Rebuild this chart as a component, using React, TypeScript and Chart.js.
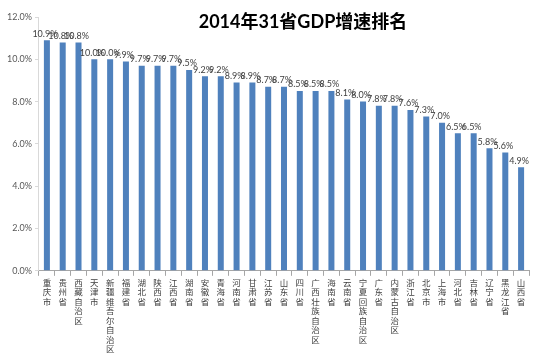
import React, { useEffect, useRef } from "react";
import { Chart, registerables } from "chart.js";

Chart.register(...registerables);

const TITLE = "2014年31省GDP增速排名";

const provinces = [
  "重庆市", "贵州省", "西藏自治区", "天津市", "新疆维吾尔自治区", "福建省", "湖北省", "陕西省",
  "江西省", "湖南省", "安徽省", "青海省", "河南省", "甘肃省", "江苏省", "山东省",
  "四川省", "广西壮族自治区", "海南省", "云南省", "宁夏回族自治区", "广东省", "内蒙古自治区", "浙江省",
  "北京市", "上海市", "河北省", "吉林省", "辽宁省", "黑龙江省", "山西省",
];

const growth = [
  10.9, 10.8, 10.8, 10.0, 10.0, 9.9, 9.7, 9.7,
  9.7, 9.5, 9.2, 9.2, 8.9, 8.9, 8.7, 8.7,
  8.5, 8.5, 8.5, 8.1, 8.0, 7.8, 7.8, 7.6,
  7.3, 7.0, 6.5, 6.5, 5.8, 5.6, 4.9,
];

const yTicks = [0, 2, 4, 6, 8, 10, 12];

const FONT = "Lato, 'Noto Sans CJK SC', sans-serif";
const CJK = "'Noto Sans CJK SC', sans-serif";

const valueLabels = {
  id: "valueLabels",
  afterDatasetsDraw(chart: any) {
    const ctx = chart.ctx;
    const meta = chart.getDatasetMeta(0);
    ctx.save();
    ctx.font = `9px ${FONT}`;
    ctx.fillStyle = "#404040";
    ctx.textAlign = "center";
    ctx.textBaseline = "bottom";
    meta.data.forEach((bar: any, i: number) => {
      ctx.fillText(growth[i].toFixed(1) + "%", bar.x - 2, bar.y - 2);
    });
    ctx.restore();
  },
};

const titlePlugin = {
  id: "overlayTitle",
  afterDraw(chart: any) {
    const ctx = chart.ctx;
    ctx.save();
    ctx.font = `bold 18px ${FONT}`;
    ctx.fillStyle = "#000000";
    ctx.textAlign = "center";
    ctx.textBaseline = "middle";
    ctx.fillText(TITLE, 303, 22);
    ctx.restore();
  },
};

export default function App() {
  const ref = useRef<HTMLCanvasElement>(null);
  useEffect(() => {
    if (!ref.current) return;
    const chart = new Chart(ref.current, {
      type: "bar",
      data: {
        labels: provinces.map((p) => p.split("")),
        datasets: [
          {
            data: growth,
            backgroundColor: "#4f81bd",
            barPercentage: 0.38,
            categoryPercentage: 1,
          },
        ],
      },
      options: {
        responsive: false,
        animation: false,
        layout: { padding: { top: 17, right: 21, left: 4, bottom: 0 } },
        plugins: {
          legend: { display: false },
          tooltip: { enabled: false },
          title: { display: false },
        },
        scales: {
          x: {
            grid: {
              display: true,
              drawOnChartArea: false,
              offset: true,
              tickLength: 5,
              color: "#a6a6a6",
            },
            border: { color: "#a6a6a6" },
            ticks: {
              maxRotation: 0,
              minRotation: 0,
              autoSkip: false,
              padding: 2,
              color: "#404040",
              font: { family: CJK, size: 8.5, lineHeight: 1.12 },
            },
          },
          y: {
            min: 0,
            max: 12,
            afterBuildTicks: (axis: any) => {
              axis.ticks = yTicks.map((v) => ({ value: v }));
            },
            grid: {
              display: true,
              drawOnChartArea: false,
              tickLength: 4,
              color: "#d9d9d9",
            },
            border: { color: "#d9d9d9" },
            ticks: {
              padding: 3,
              color: "#595959",
              font: { family: FONT, size: 9 },
              callback: (v: any) => Number(v).toFixed(1) + "%",
            },
          },
        },
      },
      plugins: [valueLabels, titlePlugin],
    });
    return () => chart.destroy();
  }, []);
  return (
    <div style={{ position: "fixed", left: 0, top: 0, width: 550, height: 356, background: "#fff" }}>
      <canvas ref={ref} width={550} height={356} />
    </div>
  );
}
